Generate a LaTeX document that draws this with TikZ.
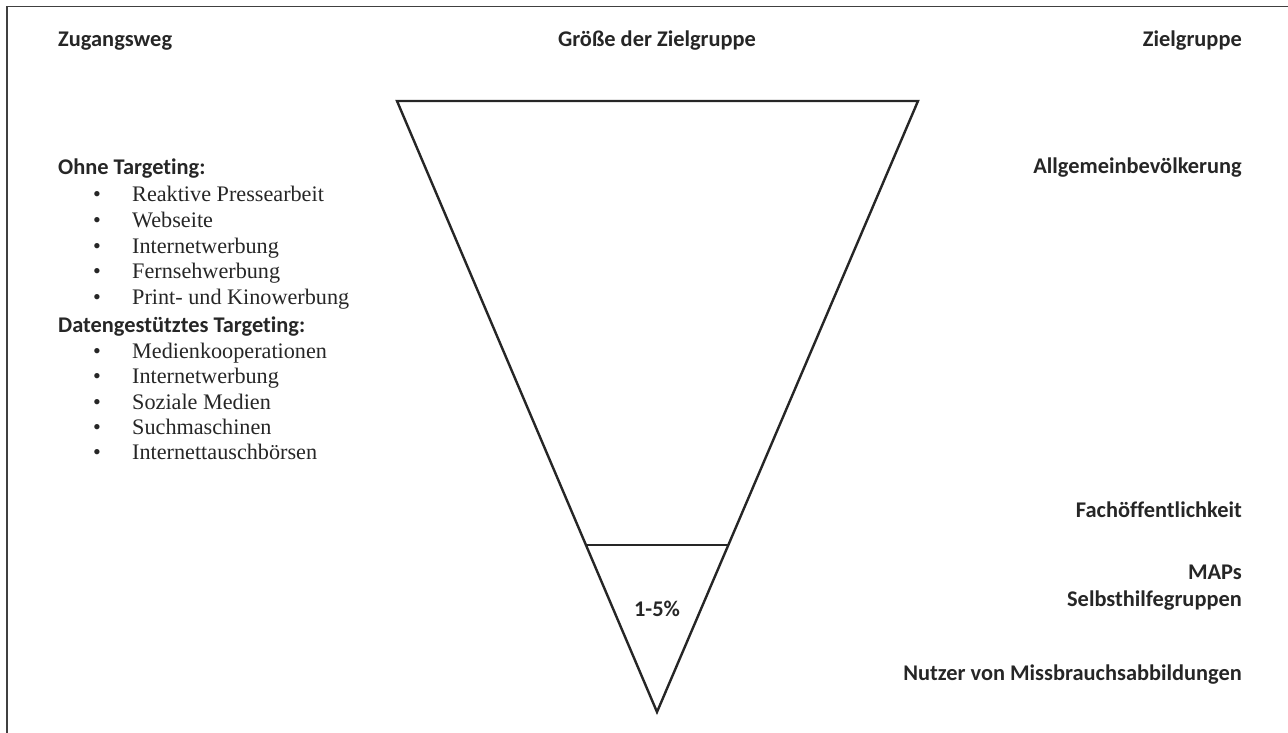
\documentclass[tikz,border=0pt]{standalone}
\usepackage{fontspec}
\setmainfont{Liberation Serif}
\newfontfamily\headfont[Ligatures=NoCommon]{Carlito}
\usetikzlibrary{positioning}
\usetikzlibrary{calc}

\begin{document}
\begin{tikzpicture}[x=1pt,y=-1pt]
	\tikzstyle{HeadStyle} = [font=\headfont\bfseries\fontsize{22.4}{27}\selectfont, text=black!85, inner sep=0pt]
	\tikzstyle{ItemStyle} = [font=\fontsize{22.2}{26}\selectfont, text=black!85, inner sep=0pt]
	\tikzstyle{FunnelStyle} = [line width=2.4pt, draw=black!85, line join=miter]
	\useasboundingbox (0,0) rectangle (1288,733);
	% frame
	\draw[line width=1.6pt, black!75] (1288,6.5) -- (7,6.5) -- (7,733);
	% column heads
	\node[HeadStyle, anchor=base west] (weg) at (58,46.7) {Zugangsweg};
	\node[HeadStyle, anchor=base] (groesse) at (657,46.7) {Größe der Zielgruppe};
	\node[HeadStyle, anchor=base east] (ziel) at (1242,46.7) {Zielgruppe};
	% funnel
	\coordinate (TL) at (397,101);
	\coordinate (TR) at (918,101);
	\coordinate (Apex) at (657,712);
	\draw[FunnelStyle] (TL) -- (TR) -- (Apex) -- cycle;
	\coordinate (CL) at ($(TL)!0.7267!(Apex)$);
	\coordinate (CR) at ($(TR)!0.7267!(Apex)$);
	\draw[FunnelStyle] (CL) -- (CR);
	\node[HeadStyle, anchor=base] (anteil) at (657,616.7) {1-5\%};
	% left column
	\node[HeadStyle, anchor=base west] (ohne) at (58,175) {Ohne Targeting:};
	\foreach \txt [count=\i] in {Reaktive Pressearbeit, Webseite, Internetwerbung, Fernsehwerbung, Print- und Kinowerbung}{
		\node[ItemStyle, anchor=base] (pO\i) at (97,201.5+25.8*\i-25.8) {•};
		\node[ItemStyle, anchor=base west] (ohne\i) at (132,201.5+25.8*\i-25.8) {\txt};
	}
	\node[HeadStyle, anchor=base west] (daten) at (58,332) {Datengestütztes Targeting:};
	\foreach \txt [count=\i] in {Medienkooperationen, Internetwerbung, Soziale Medien, Suchmaschinen, Internettauschbörsen}{
		\node[ItemStyle, anchor=base] (pD\i) at (97,358.3+25.4*\i-25.4) {•};
		\node[ItemStyle, anchor=base west] (daten\i) at (132,358.3+25.4*\i-25.4) {\txt};
	}
	% right column
	\node[HeadStyle, anchor=base east] (allg) at (1242,173.3) {Allgemeinbevölkerung};
	\node[HeadStyle, anchor=base east] (fach) at (1242,517.3) {Fachöffentlichkeit};
	\node[HeadStyle, anchor=base east] (maps) at (1242,579) {MAPs};
	\node[HeadStyle, anchor=base east] (shg) at (1242,606.7) {Selbsthilfegruppen};
	\node[HeadStyle, anchor=base east] (nutzer) at (1242,680) {Nutzer von Missbrauchsabbildungen};
\end{tikzpicture}
\end{document}
